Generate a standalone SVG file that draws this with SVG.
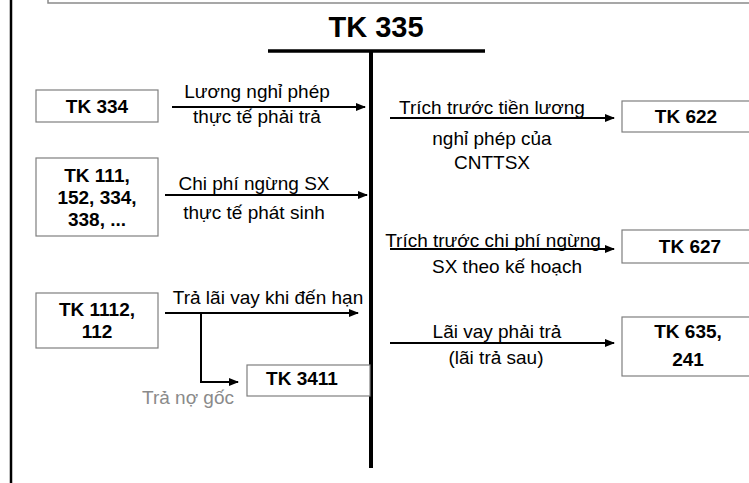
<svg xmlns="http://www.w3.org/2000/svg" width="749" height="483" viewBox="0 0 749 483">
<style>
text{font-family:"Liberation Sans",Arial,sans-serif;fill:#000}
.lbl{font-size:19px;text-anchor:middle}
.box{font-size:19px;font-weight:bold;text-anchor:middle}
.rect{fill:#fff;stroke:#7f7f7f;stroke-width:1.2}
.arr{stroke:#000;stroke-width:2;fill:none;marker-end:url(#ah)}
</style>
<defs>
<marker id="ah" markerUnits="userSpaceOnUse" markerWidth="10" markerHeight="8" refX="9" refY="4" orient="auto">
<path d="M0,0 L10,4 L0,8 Z" fill="#000"/>
</marker>
</defs>
<rect width="749" height="483" fill="#fff"/>
<g id="frame">
<line x1="11" y1="0" x2="11" y2="483" stroke="#000" stroke-width="2.5"/>
<polyline points="48,0 48,3 749,3" fill="none" stroke="#8a8a8a" stroke-width="1.5"/>
</g>
<g id="taccount">
<text x="376" y="37" style="font-size:29px;font-weight:bold;text-anchor:middle">TK 335</text>
<line x1="268" y1="51" x2="485" y2="51" stroke="#000" stroke-width="3.5"/>
<line x1="371" y1="50" x2="371" y2="468" stroke="#000" stroke-width="4"/>
</g>
<g id="connectors">
<line class="arr" x1="172" y1="107" x2="365" y2="107"/>
<line class="arr" x1="165" y1="195" x2="367" y2="195"/>
<line class="arr" x1="165" y1="313" x2="358" y2="313"/>
<polyline class="arr" points="201,313 201,382 238,382"/>
<line class="arr" x1="390" y1="118" x2="614" y2="118"/>
<line class="arr" x1="390" y1="249" x2="614" y2="249"/>
<line class="arr" x1="390" y1="343" x2="614" y2="343"/>
</g>
<g id="labels">
<text class="lbl" x="257" y="98">Lương nghỉ phép</text>
<text class="lbl" x="257" y="123">thực tế phải trả</text>
<text class="lbl" x="254" y="190">Chi phí ngừng SX</text>
<text class="lbl" x="254" y="219">thực tế phát sinh</text>
<text class="lbl" x="268" y="304">Trả lãi vay khi đến hạn</text>
<text class="lbl" x="188" y="404" style="fill:#8a8a8a">Trả nợ gốc</text>
<text class="lbl" x="492" y="114">Trích trước tiền lương</text>
<text class="lbl" x="492" y="145">nghỉ phép của</text>
<text class="lbl" x="492" y="169">CNTTSX</text>
<text class="lbl" x="493" y="247">Trích trước chi phí ngừng</text>
<text class="lbl" x="507" y="273">SX theo kế hoạch</text>
<text class="lbl" x="497" y="338">Lãi vay phải trả</text>
<text class="lbl" x="496" y="364">(lãi trả sau)</text>
</g>
<g id="tk334">
<rect class="rect" x="36" y="90" width="122" height="32"/>
<text class="box" x="97" y="113">TK 334</text>
</g>
<g id="tk111">
<rect class="rect" x="36" y="158" width="122" height="78"/>
<text class="box" x="97" y="182">TK 111,</text>
<text class="box" x="97" y="204">152, 334,</text>
<text class="box" x="97" y="226">338, ...</text>
</g>
<g id="tk1112">
<rect class="rect" x="36" y="293" width="122" height="55"/>
<text class="box" x="97" y="316">TK 1112,</text>
<text class="box" x="97" y="338">112</text>
</g>
<g id="tk3411">
<rect class="rect" x="247" y="365" width="123" height="31"/>
<text class="box" x="302" y="385">TK 3411</text>
</g>
<g id="tk622">
<rect class="rect" x="622" y="101" width="130" height="31"/>
<text class="box" x="686" y="123">TK 622</text>
</g>
<g id="tk627">
<rect class="rect" x="622" y="230" width="130" height="33"/>
<text class="box" x="690" y="253">TK 627</text>
</g>
<g id="tk635">
<rect class="rect" x="622" y="317" width="130" height="59"/>
<text class="box" x="688" y="338">TK 635,</text>
<text class="box" x="688" y="366">241</text>
</g>
</svg>
